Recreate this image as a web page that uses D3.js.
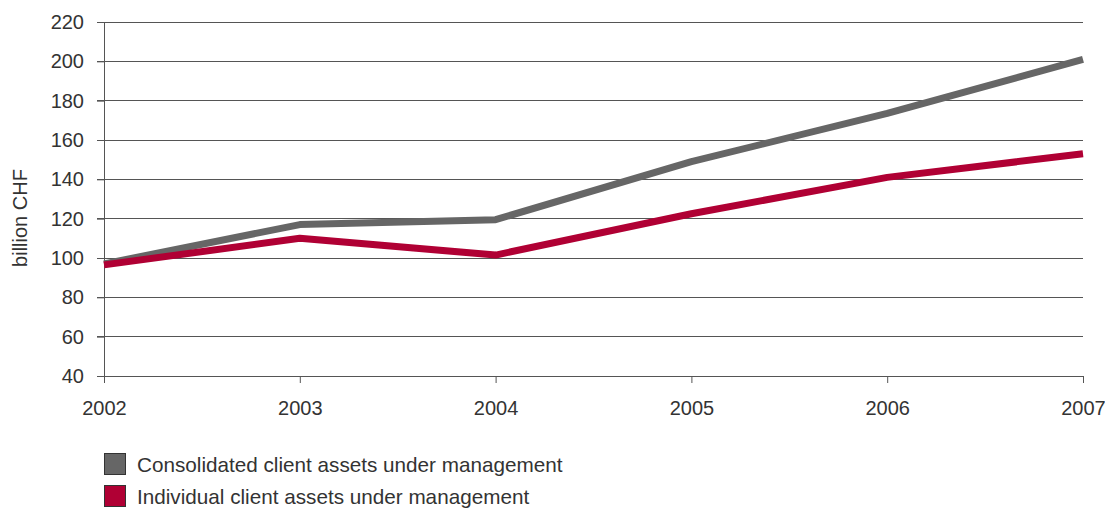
<!DOCTYPE html>
<html>
<head>
<meta charset="utf-8">
<script src="https://cdn.jsdelivr.net/npm/d3@7"></script>
<style>
  html, body { margin: 0; padding: 0; background: #fff; }
  svg text { font-family: "Liberation Sans", Arial, sans-serif; fill: #333; }
</style>
</head>
<body>
<svg id="chart" width="1105" height="508"></svg>
<script>
// Client assets under management, billion CHF
const years = [2002, 2003, 2004, 2005, 2006, 2007];
const consolidated = [97, 117, 119.5, 149, 173.5, 201];
const individual = [96.5, 110, 101.5, 122.5, 141, 153];
const yTicks = [40, 60, 80, 100, 120, 140, 160, 180, 200, 220];
const seriesNames = ["Consolidated client assets under management", "Individual client assets under management"];
const seriesColors = ["#666666", "#b00034"];

const svg = d3.select("#chart");
const x = d3.scalePoint().domain(years).range([104, 1083]);
const y = d3.scaleLinear().domain([40, 220]).range([376, 22]);

// horizontal grid lines
svg.append("g")
  .selectAll("line")
  .data(yTicks)
  .join("line")
  .attr("x1", 97).attr("x2", 1083)
  .attr("y1", d => y(d)).attr("y2", d => y(d))
  .attr("stroke", "#555").attr("stroke-width", 1)
  .attr("shape-rendering", "crispEdges");

// y axis
const yAxis = svg.append("g")
  .attr("transform", "translate(104,0)")
  .call(d3.axisLeft(y).tickValues(yTicks).tickSize(7).tickPadding(13));
yAxis.select(".domain").attr("stroke", "#555");
yAxis.selectAll(".tick line").attr("stroke", "#555");
yAxis.selectAll("text").style("font-size", "20px").attr("fill", "#333");

// x axis
const xAxis = svg.append("g")
  .attr("transform", "translate(0,376)")
  .call(d3.axisBottom(x).tickSize(7).tickPadding(18).tickFormat(d3.format("d")));
xAxis.select(".domain").remove();
xAxis.selectAll(".tick line").attr("stroke", "#555");
xAxis.selectAll("text").style("font-size", "20px").attr("fill", "#333");

svg.append("text")
  .attr("transform", "translate(27,218) rotate(-90)")
  .attr("text-anchor", "middle")
  .style("font-size", "20px")
  .text("billion CHF");

// series lines
const line = d3.line().x((d, i) => x(years[i])).y(d => y(d));
[consolidated, individual].forEach((vals, k) => {
  svg.append("path")
    .datum(vals)
    .attr("d", line)
    .attr("fill", "none")
    .attr("stroke", seriesColors[k])
    .attr("stroke-width", 7)
    .attr("stroke-linejoin", "round");
});

// legend
const legend = svg.append("g").attr("transform", "translate(104,453)");
const items = legend.selectAll("g")
  .data(seriesNames)
  .join("g")
  .attr("transform", (d, i) => `translate(0,${i * 32})`);
items.append("rect")
  .attr("x", 0.5).attr("y", 0.5)
  .attr("width", 21).attr("height", 21)
  .attr("fill", (d, i) => seriesColors[i])
  .attr("stroke", "#333").attr("stroke-width", 1);
items.append("text")
  .attr("x", 33).attr("y", 19)
  .style("font-size", "20.7px")
  .text(d => d);
</script>
</body>
</html>
